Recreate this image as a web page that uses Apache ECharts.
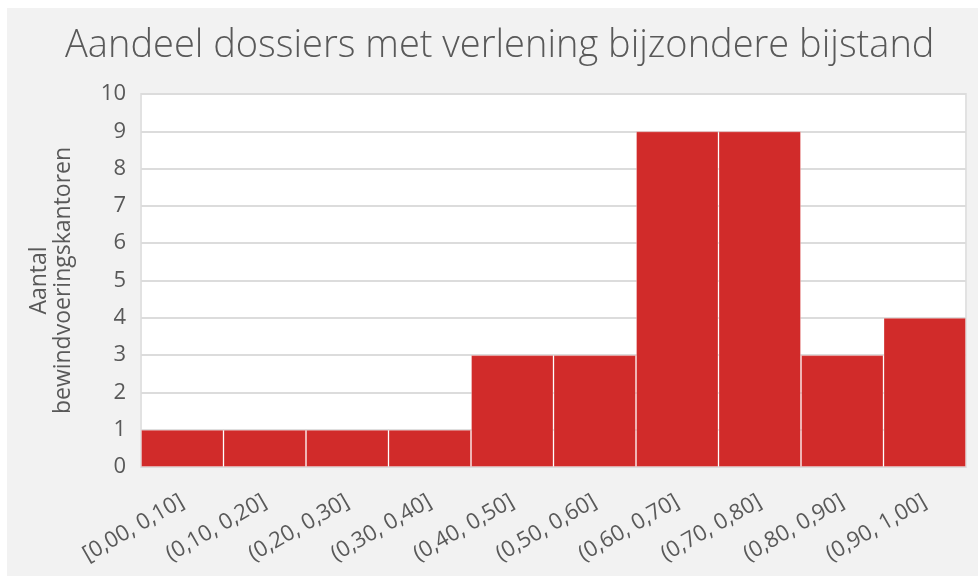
<!DOCTYPE html>
<html>
<head>
<meta charset="utf-8">
<script src="https://cdn.jsdelivr.net/npm/echarts@6/dist/echarts.min.js"></script>
<style>
html,body{margin:0;padding:0;background:#fff;}
#wrap{position:absolute;left:7px;top:8px;width:971px;height:568px;background:#f2f2f2;}
#chart{position:absolute;left:0;top:0;width:971px;height:568px;}
</style>
</head>
<body>
<div id="wrap"><div id="chart"></div></div>
<script>
const titleText = 'Aandeel dossiers met verlening bijzondere bijstand';
const yAxisName = 'Aantal\nbewindvoeringskantoren';
const categories = ['[0,00, 0,10]','(0,10, 0,20]','(0,20, 0,30]','(0,30, 0,40]','(0,40, 0,50]','(0,50, 0,60]','(0,60, 0,70]','(0,70, 0,80]','(0,80, 0,90]','(0,90, 1,00]'];
const counts = [1, 1, 1, 1, 3, 3, 9, 9, 3, 4];
const yMin = 0, yMax = 10, yStep = 1;

const chart = echarts.init(document.getElementById('chart'), null, {renderer:'canvas'});
const font = '"Open Sans", "Noto Sans", sans-serif';
chart.setOption({
  animation: false,
  backgroundColor: 'transparent',
  title: {
    text: titleText,
    left: 53,
    top: 14,
    textStyle: {fontFamily: font, fontWeight: 300, fontSize: 38, color: '#595959'}
  },
  grid: {
    left: 134, right: 12, top: 86, bottom: 109,
    show: true, backgroundColor: '#ffffff', borderColor: '#e2e2e2', borderWidth: 2
  },
  xAxis: {
    type: 'category',
    data: categories,
    axisLine: {show: false},
    axisTick: {show: false},
    axisLabel: {
      rotate: 30, interval: 0, margin: 33,
      fontFamily: font, fontSize: 22, color: '#595959'
    }
  },
  yAxis: {
    type: 'value',
    min: yMin, max: yMax, interval: yStep,
    name: yAxisName,
    nameLocation: 'middle',
    nameGap: 66,
    nameRotate: 90,
    nameTextStyle: {fontFamily: font, fontSize: 23, color: '#595959', lineHeight: 24},
    axisLine: {show: false},
    axisTick: {show: false},
    axisLabel: {fontFamily: font, fontSize: 22, color: '#595959', margin: 15},
    splitLine: {lineStyle: {color: '#dcdcdc', width: 2}}
  },
  series: [{
    type: 'bar',
    data: counts,
    barWidth: '100%',
    itemStyle: {color: '#d12b2a', borderColor: 'rgba(255,255,255,0.3)', borderWidth: 1}
  }]
});
</script>
</body>
</html>
